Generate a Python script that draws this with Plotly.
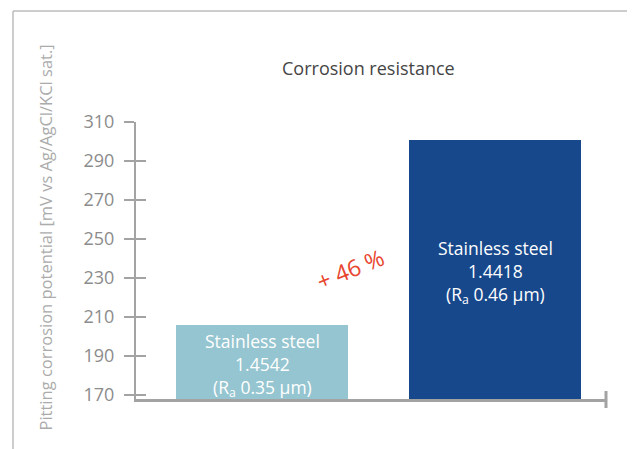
import plotly.graph_objects as go

categories = [0, 1]
labels = ["Stainless steel<br>1.4542<br>(R<sub>a</sub> 0.35 µm)",
          "Stainless steel<br>1.4418<br>(R<sub>a</sub> 0.46 µm)"]
values = [206, 301]
colors = ["#95c5d0", "#17488c"]
tick_vals = [170, 190, 210, 230, 250, 270, 290, 310]
y_min, y_max = 167.8, 310
title = "Corrosion resistance"
y_title = "Pitting corrosion potential [mV vs Ag/AgCl/KCl sat.]"
delta_text = "+ 46 %"

FONT = "Open Sans"
AX = "#a3a3a3"
OFF = 8  # page body margin


def px(xp):
    return (xp - 136) / 470


def py(yp):
    return (399 - yp) / 277


fig = go.Figure()
fig.add_trace(go.Bar(x=categories, y=values, marker=dict(color=colors, line=dict(width=0)),
                     width=0.738, hoverinfo="skip", showlegend=False))
fig.add_trace(go.Scatter(x=[0], y=[y_max], yaxis="y2", mode="markers",
                         marker=dict(opacity=0), showlegend=False, hoverinfo="skip"))

annotations = []
for c, v, t in zip(categories, values, labels):
    annotations.append(dict(x=c, y=(v + y_min) / 2, xref="x", yref="y", text=t,
                            showarrow=False, xanchor="center", yanchor="middle",
                            yshift=-3, align="center",
                            font=dict(family=FONT, size=17.5, color="white")))
annotations.append(dict(x=px(350), y=py(269), xref="paper", yref="paper",
                        text=delta_text, showarrow=False, textangle=-22,
                        xanchor="center", yanchor="middle",
                        font=dict(family=FONT, size=23, color="#e8452e")))
annotations.append(dict(x=px(45), y=py(237.5), xref="paper", yref="paper",
                        text=y_title, showarrow=False, textangle=-90,
                        xanchor="center", yanchor="middle",
                        font=dict(family=FONT, size=16.5, color="#ababab")))
annotations.append(dict(x=px(368), y=py(68), xref="paper", yref="paper",
                        text=title, showarrow=False, xanchor="center", yanchor="middle",
                        font=dict(family=FONT, size=18, color="#454545")))

shapes = [
    dict(type="line", xref="paper", yref="paper", x0=1, x1=1,
         y0=py(408), y1=py(391), line=dict(color=AX, width=3)),
    dict(type="line", xref="paper", yref="paper", x0=px(13), x1=px(660),
         y0=py(11), y1=py(11), line=dict(color="#bdbdbd", width=1.5)),
    dict(type="line", xref="paper", yref="paper", x0=px(13), x1=px(13),
         y0=py(11), y1=py(470), line=dict(color="#bdbdbd", width=1.5)),
]

fig.update_layout(
    width=635 - OFF, height=449 - OFF,
    margin=dict(l=136 - OFF, r=29, t=122 - OFF, b=50, autoexpand=False),
    paper_bgcolor="white", plot_bgcolor="white",
    bargap=0,
    xaxis=dict(range=[-0.541, 1.476], showgrid=False, zeroline=False, showticklabels=False,
               ticks="", showline=True, linecolor=AX, linewidth=2.5, fixedrange=True),
    yaxis=dict(range=[y_min, y_max], tickvals=tick_vals, ticks="outside", ticklen=10,
               tickwidth=2, tickcolor=AX, showline=True, linecolor=AX, linewidth=2,
               showgrid=False, zeroline=False, ticklabelstandoff=6,
               tickfont=dict(family=FONT, size=18, color="#8c8c8c")),
    yaxis2=dict(range=[y_min, y_max], tickvals=tick_vals, ticks="inside", ticklen=10,
                tickwidth=2, tickcolor=AX, overlaying="y", side="left", anchor="x",
                showticklabels=False, showgrid=False, zeroline=False, showline=False),
    annotations=annotations,
    shapes=shapes,
)

fig.write_html("out.html")
